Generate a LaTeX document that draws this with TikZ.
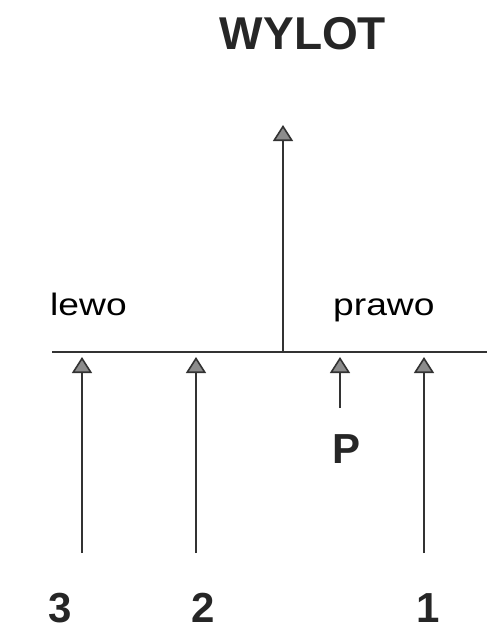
\documentclass[tikz,border=0pt]{standalone}
\usepackage{fontspec}
\setmainfont{Liberation Sans}
\usetikzlibrary{arrows.meta}

\begin{document}
\begin{tikzpicture}[x=1pt, y=-1pt,
    linia/.style = {line width=1.6pt, draw=black!80},
    wlot/.style  = {linia, -{Triangle[width=20pt, length=16pt, fill=black!45]}},
    napis/.style = {font=\fontsize{31}{31}\selectfont, xscale=1.2, anchor=base west, inner sep=0pt},
    numer/.style = {font=\fontsize{42}{42}\selectfont\bfseries, anchor=base, inner sep=0pt,
                    text depth=0pt, text=black!85},
  ]
  \useasboundingbox (0,0) rectangle (489,637);
  % wylot (gora)
  \node[font=\fontsize{46}{46}\selectfont\bfseries, text=black!85] (wylot) at (303,34) {WYLOT};
  \coordinate (wezel) at (283,352);
  \coordinate (gora) at (283,125);
  \draw[wlot] (wezel) -- (gora);
  % kolektor
  \coordinate (lewy) at (52,352);
  \coordinate (prawy) at (487,352);
  \draw[linia] (lewy) -- (prawy);
  \node[napis] (lewo) at (50,315) {lewo};
  \node[napis] (prawo) at (333,315) {prawo};
  % doplywy 1-3
  \foreach \nr/\xl/\xn in {3/82/60, 2/196/203, 1/424/428} {
    \node[numer] (nr\nr) at (\xn,622) {\nr};
    \coordinate (dol\nr) at (\xl,553);
    \coordinate (ujscie\nr) at (\xl,357);
    \draw[wlot] (dol\nr) -- (ujscie\nr);
  }
  % doplyw P
  \node[numer] (p) at (347,463) {P};
  \coordinate (pdol) at (340,408);
  \coordinate (pujscie) at (340,357);
  \draw[wlot] (pdol) -- (pujscie);
\end{tikzpicture}
\end{document}
